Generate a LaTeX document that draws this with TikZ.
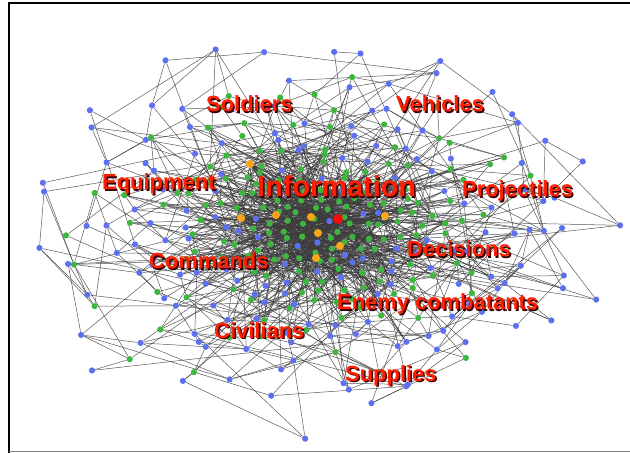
\documentclass[tikz,border=0pt]{standalone}
\usepackage{fontspec}
\setmainfont{Liberation Sans}
\pgfdeclarelayer{wires}
\pgfsetlayers{wires,main}
\definecolor{dotblue}{RGB}{92,112,240}
\definecolor{dotgreen}{RGB}{60,182,62}
\definecolor{hubred}{RGB}{245,12,12}
\definecolor{huborange}{RGB}{250,166,22}
\definecolor{labred}{RGB}{255,30,0}
\definecolor{labshade}{RGB}{60,0,0}
\definecolor{wire}{RGB}{60,60,60}
\tikzset{
  dot/.style={circle,inner sep=0pt,minimum size=6.2bp,draw=none},
  hubdot/.style={dot,minimum size=10bp,fill=hubred},
  orangedot/.style={dot,minimum size=8bp,fill=huborange},
  link/.style={draw=wire,line width=0.5bp,draw opacity=0.85},
  lab/.style={anchor=base west,inner sep=0pt,font=\bfseries\fontsize{22}{22}\selectfont},
  biglab/.style={lab,font=\bfseries\fontsize{29}{30}\selectfont},
}
\newcount\vcount
\newcount\ringno
% node of ring #1 whose angle is nearest to #2; result in \picked
\newcommand\pickonring[2]{%
  \edef\rgS{\csname rS#1\endcsname}%
  \edef\rgN{\csname rN#1\endcsname}%
  \edef\rgP{\csname rP#1\endcsname}%
  \pgfmathsetmacro{\rgD}{mod(#2-\rgP,360)/360}%
  \pgfmathtruncatemacro{\rgK}{mod(mod(round(\rgD*\rgN),\rgN)+\rgN,\rgN)}%
  \ifnum\rgK=0 \edef\rgK{\rgN}\fi
  \pgfmathtruncatemacro{\picked}{\rgS+\rgK}%
}
\begin{document}
\begin{tikzpicture}[x=1bp,y=-1bp]
\useasboundingbox (0,0) rectangle (630,453);
\pgfmathsetseed{2718}
\def\cx{318}\def\cy{230}
\global\vcount=0 \global\ringno=0
% vertices, laid out on jittered elliptical rings
\foreach \r/\n in {12/7,22/13,32/18,42/23,53/27,64/31,76/34,89/36,103/36,118/34,134/30,151/26,169/22,188/18}{
  \global\advance\ringno by 1
  \pgfmathsetmacro{\ph}{rnd*360}
  \expandafter\xdef\csname rS\the\ringno\endcsname{\the\vcount}
  \expandafter\xdef\csname rN\the\ringno\endcsname{\n}
  \expandafter\xdef\csname rP\the\ringno\endcsname{\ph}
  \foreach \k in {1,...,\n}{
    \global\advance\vcount by 1
    \pgfmathsetmacro{\ang}{\ph+360*\k/\n+(rnd-0.5)*160/\n}
    \pgfmathsetmacro{\rad}{\r*(1+(rnd-0.5)*(0.1+\r/900))}
    \pgfmathtruncatemacro{\isgreen}{rnd<(0.97-\r/200)}
    \ifnum\isgreen=1 \def\col{dotgreen}\else\def\col{dotblue}\fi
    \node[dot,fill=\col] (v\the\vcount) at ({\cx+1.55*\rad*cos(\ang)},{\cy+\rad*sin(\ang)}) {};
  }
}
\xdef\ringtotal{\the\ringno}
% hubs
\node[hubdot] (hub) at (338,219) {};
\foreach \p [count=\j] in {(250,164),(241,218),(276,215),(311,217),(318,233),(340,246),(316,258),(385,216)}
  \node[orangedot] (o\j) at \p {};
% links
\begin{pgfonlayer}{wires}
\foreach \m in {2,...,\ringtotal}{
  \edef\mS{\csname rS\m\endcsname}\edef\mN{\csname rN\m\endcsname}\edef\mP{\csname rP\m\endcsname}
  \foreach \k in {1,...,\mN}{
    \pgfmathtruncatemacro{\self}{\mS+\k}
    \pgfmathsetmacro{\ang}{\mP+360*\k/\mN}
    \pgfmathtruncatemacro{\ra}{max(1,\m-1-(rnd<0.35))}
    \pgfmathsetmacro{\aa}{\ang+(rnd-0.5)*60}
    \pickonring{\ra}{\aa}
    \draw[link] (v\self) -- (v\picked);
    \pgfmathtruncatemacro{\rb}{1+floor(rnd*(\m-1))}
    \pgfmathsetmacro{\ab}{\ang+(rnd-0.5)*220}
    \pickonring{\rb}{\ab}
    \draw[link] (v\self) -- (v\picked);
    \pgfmathtruncatemacro{\doside}{rnd<0.4}
    \ifnum\doside=1
      \pgfmathtruncatemacro{\nb}{\mS+mod(\k+floor(rnd*2),\mN)+1}
      \draw[link] (v\self) -- (v\nb);
    \fi
    \pgfmathtruncatemacro{\docross}{(rnd<0.25)*(\m>5)}
    \ifnum\docross=1
      \pgfmathtruncatemacro{\rc}{1+floor(rnd*(\m-1))}
      \pgfmathsetmacro{\ac}{\ang+180+(rnd-0.5)*120}
      \pickonring{\rc}{\ac}
      \draw[link] (v\self) -- (v\picked);
    \fi
    \ifnum\m<9
      \pgfmathtruncatemacro{\rd}{1+floor(rnd*3)}
      \pgfmathsetmacro{\ad}{rnd*360}
      \pickonring{\rd}{\ad}
      \draw[link] (v\self) -- (v\picked);
    \fi
  }
}
\foreach \e in {1,...,140}{
  \pgfmathtruncatemacro{\rh}{1+floor(rnd*rnd*10)}
  \pgfmathsetmacro{\ah}{rnd*360}
  \pickonring{\rh}{\ah}
  \draw[link] (hub) -- (v\picked);
}
\foreach \j in {1,...,8}{
  \foreach \e in {1,...,28}{
    \pgfmathtruncatemacro{\rh}{1+floor(rnd*11)}
    \pgfmathsetmacro{\ah}{rnd*360}
    \pickonring{\rh}{\ah}
    \draw[link] (o\j) -- (v\picked);
  }
}
\end{pgfonlayer}
% category labels with a dark drop shadow
\foreach \x/\y/\t/\nm in {206/112/Soldiers/soldiers,396/112/Vehicles/vehicles,
  102/190/Equipment/equipment,462/197/Projectiles/projectiles,407/257/Decisions/decisions,
  149/269/Commands/commands,337/310/Enemy combatants/enemy,214/338/Civilians/civilians,
  345/381/Supplies/supplies}{
  \node[lab,text=labshade] (\nm-shade) at (\x+1.5,\y+1.5) {\t};
  \node[lab,text=labred] (\nm) at (\x,\y) {\t};
}
\node[biglab,text=labshade] (information-shade) at (258.5,198.5) {Information};
\node[biglab,text=labred] (information) at (257,197) {Information};
% frame
\draw[line width=2bp] (9,453) -- (9,3) -- (630,3);
\draw[line width=1.5bp,gray] (9,451.5) -- (630,451.5);
\end{tikzpicture}
\end{document}
